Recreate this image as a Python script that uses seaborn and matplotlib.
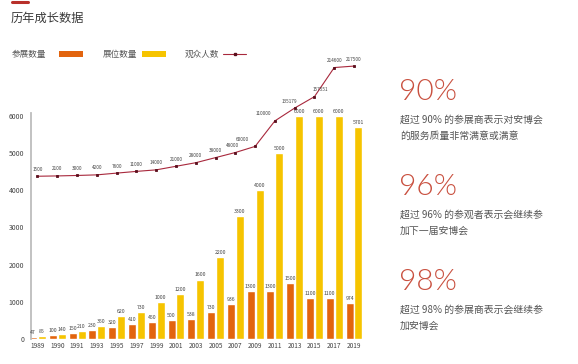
import numpy as np
import pandas as pd
import matplotlib
matplotlib.use('Agg')
import matplotlib.pyplot as plt
import seaborn as sns
from matplotlib.lines import Line2D
from matplotlib.patches import Rectangle

# ---------------- data ----------------
title = '历年成长数据'
years = ['1989', '1990', '1991', '1993', '1995', '1997', '1999', '2001', '2003',
         '2005', '2007', '2009', '2011', '2013', '2015', '2017', '2019']
exhibitors = [47, 100, 150, 230, 320, 410, 450, 500, 538, 730, 936, 1300, 1300,
              1500, 1100, 1100, 974]
booths = [85, 140, 210, 350, 620, 730, 1000, 1200, 1600, 2200, 3300, 4000, 5000,
          6000, 6000, 6000, 5701]
visitors = [1500, 2100, 3000, 4200, 7600, 11000, 14000, 21000, 28000, 38000,
            48000, 60000, 110000, 135179, 157551, 214600, 217500]
series_names = ['参展数量', '展位数量', '观众人数']
y_ticks = [0, 1000, 2000, 3000, 4000, 5000, 6000]
pct_values = ['90%', '96%', '98%']
pct_notes = [['超过 90% 的参展商表示对安博会', '的服务质量非常满意或满意'],
             ['超过 96% 的参观者表示会继续参', '加下一届安博会'],
             ['超过 98% 的参展商表示会继续参', '加安博会']]

# ---------------- style ----------------
ORANGE = '#E2640E'
YELLOW = '#F6C400'
LINE = '#A8283C'
MARK = '#5A0E1C'
RED = '#C9503F'

sns.set_style('white')
plt.rcParams['font.family'] = ['Noto Sans CJK SC', 'DejaVu Sans']

W, H = 578, 364
fig = plt.figure(figsize=(W / 100, H / 100), dpi=100)

def fx(px):
    return px / W

def fy(py):
    return 1 - py / H

ax_left, ax_right, ax_top, ax_bottom = 31, 366, 60, 339
ax = fig.add_axes([fx(ax_left), fy(ax_bottom), fx(ax_right - ax_left),
                   (ax_bottom - ax_top) / H])

df = pd.DataFrame({
    'year': years * 2,
    'value': exhibitors + booths,
    'series': [series_names[0]] * len(years) + [series_names[1]] * len(years),
})
sns.barplot(data=df, x='year', y='value', hue='series', palette=[ORANGE, YELLOW],
            width=0.9, gap=0.1, saturation=1, legend=False, ax=ax)

for cont, vals in zip(ax.containers, [exhibitors, booths]):
    ax.bar_label(cont, labels=[str(v) for v in vals], fontsize=3.7, padding=1.5,
                 color='#444444')

px_per_k = (ax_bottom - 116) / 6000.0
ax.set_ylim(0, (ax_bottom - ax_top) / px_per_k)
ax.set_yticks(y_ticks)
ax.set_yticklabels([str(t) for t in y_ticks])
ax.set_xlabel('')
ax.set_ylabel('')
ax.tick_params(axis='y', length=0, pad=5, labelsize=5, labelcolor='#444444')
ax.tick_params(axis='x', length=0, pad=2, labelsize=4.7, labelcolor='#444444')
for s in ['top', 'right', 'bottom']:
    ax.spines[s].set_visible(False)
ax.spines['left'].set_color('#BDBDBD')
ax.spines['left'].set_linewidth(1.3)
ax.spines['left'].set_bounds(0, 6080)

# ---------------- visitors line on twin axis ----------------
ax2 = ax.twinx()
sns.pointplot(x=years, y=visitors, ax=ax2, color=LINE, markers='s',
              markersize=1.6, linewidth=0.8)
for ln in ax2.lines:
    ln.set_markerfacecolor(MARK)
    ln.set_markeredgecolor(MARK)
slope = 0.00051  # px per visitor
ax2.set_ylim(-(ax_bottom - 177) / slope, (177 - ax_top) / slope)
ax2.set_yticks([])
ax2.set_ylabel('')
for s in ax2.spines.values():
    s.set_visible(False)
label_dx = [0, 0, 0, 0, 0, 0, 0, 0, 0, 0, -2, -9, -8, -4, 4, 0, 0]
for i, v in enumerate(visitors):
    ax2.annotate(str(v), (i, v), xytext=(label_dx[i], 3.2), textcoords='offset points',
                 ha='center', va='bottom', fontsize=3.4, color='#444444',
                 annotation_clip=False)

nx = len(years)
ax.set_xlim(-(37.5 - ax_left) / 19.8, nx - 1 + (ax_right - 354) / 19.8)
ax2.set_xlim(ax.get_xlim())

# ---------------- title & legend ----------------
fig.add_artist(Line2D([fx(12), fx(28)], [fy(1.5), fy(1.5)], color='#B8302A', lw=2.2))
fig.text(fx(11), fy(18), title, fontsize=8.8, color='#3A3A3A', va='center', ha='left')

fig.text(fx(12), fy(54), series_names[0], fontsize=6.2, color='#555555', va='center')
fig.add_artist(Rectangle((fx(59), fy(57)), fx(24), 6 / H, color=ORANGE, lw=0))
fig.text(fx(103), fy(54), series_names[1], fontsize=6.2, color='#555555', va='center')
fig.add_artist(Rectangle((fx(142), fy(57)), fx(24), 6 / H, color=YELLOW, lw=0))
fig.text(fx(185), fy(54), series_names[2], fontsize=6.2, color='#555555', va='center')
fig.add_artist(Line2D([fx(223), fx(246)], [fy(54), fy(54)], color=LINE, lw=0.8))
fig.add_artist(Line2D([fx(234.5)], [fy(54)], color=MARK, marker='s', markersize=1.8, lw=0))

# ---------------- right text block ----------------
pct_y = [92, 187, 282]
for yy, pv, notes in zip(pct_y, pct_values, pct_notes):
    fig.text(fx(399), fy(yy), pv, fontsize=21.5, color=RED, va='center', ha='left',
             family=['Lato', 'DejaVu Sans'], fontweight=300)
    for k, line in enumerate(notes):
        fig.text(fx(400), fy(yy + 28 + 15.5 * k), line, fontsize=7.1, color='#555555',
                 va='center', ha='left')

fig.savefig('out.png', dpi=100)
